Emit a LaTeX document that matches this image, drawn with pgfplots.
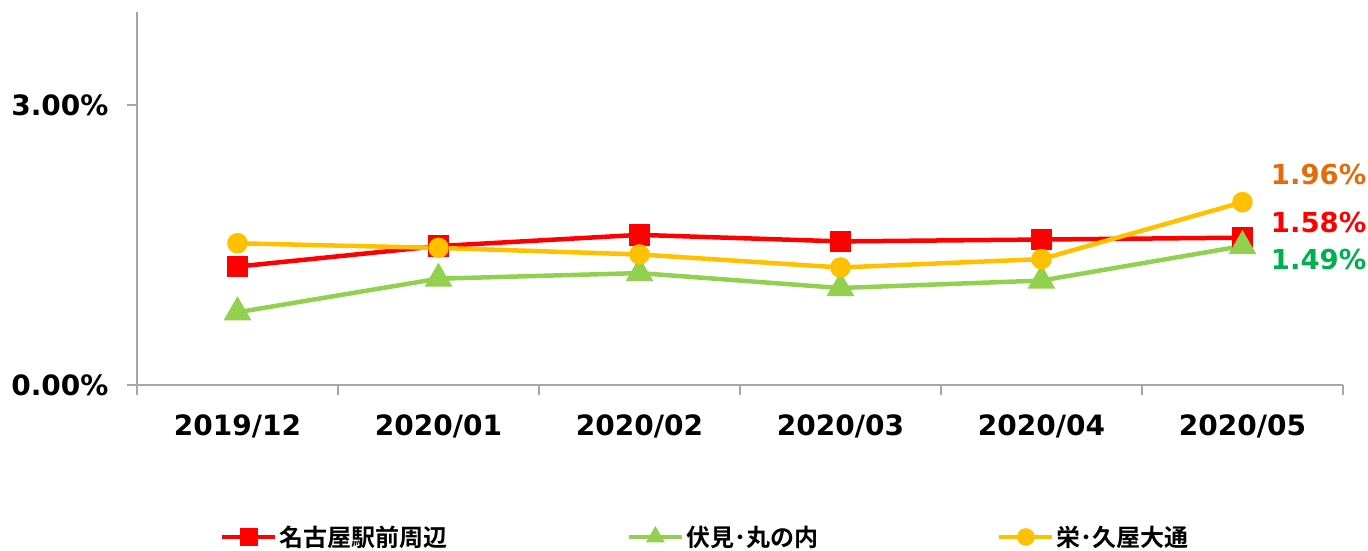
\documentclass[border=0pt]{standalone}
\usepackage{fontspec}
\setmainfont{DejaVu Sans}
\newfontfamily\cjk{Noto Sans CJK JP Bold}
\usepackage{pgfplots}
\pgfplotsset{compat=1.18}
\definecolor{cred}{HTML}{FF0000}
\definecolor{cgreen}{HTML}{92D050}
\definecolor{cyel}{HTML}{FFC000}
\definecolor{corange}{HTML}{E46C0A}
\definecolor{cdgreen}{HTML}{00B050}
\definecolor{axgray}{HTML}{A6A6A6}
\begin{document}
\begin{tikzpicture}
\useasboundingbox (0,0) rectangle (1368pt,551pt);
\begin{axis}[
  at={(137pt,166pt)}, anchor=south west,
  scale only axis, width=1206pt, height=373pt,
  xmin=-0.5, xmax=5.5, ymin=0, ymax=4,
  axis x line=bottom, axis y line=left,
  axis line style={-, draw=axgray, line width=1.5pt},
  xtick={0,...,5},
  xticklabels={2019/12,2020/01,2020/02,2020/03,2020/04,2020/05},
  x tick style={draw=none},
  extra x ticks={-0.5,0.5,1.5,2.5,3.5,4.5,5.5},
  extra x tick labels={},
  extra x tick style={x tick style={draw=axgray, line width=1.5pt}},
  ytick={0,3}, yticklabels={0.00\%,3.00\%},
  y tick style={draw=axgray, line width=1.5pt},
  tick align=outside, major tick length=10pt,
  ticklabel style={font=\fontsize{28}{28}\selectfont\bfseries},
  xticklabel style={yshift=-16pt},
  yticklabel style={xshift=-15pt},
  legend columns=3,
  legend cell align=left,
  legend style={at={(0.0688,-0.4075)}, anchor=west, draw=none, fill=none, inner sep=0pt,
    font=\cjk\fontsize{24}{24}\selectfont,
    /tikz/every even column/.append style={column sep=177pt}},
  legend image code/.code={\draw[mark repeat=2,mark phase=2,#1,mark size=6.5pt] plot coordinates {(0pt,0pt)(26.5pt,0pt)(53pt,0pt)};},
  clip=false,
]
\addplot[cred, line width=4.5pt, mark=square*, mark size=8.5pt, mark options={solid}]
  coordinates {(0,1.27)(1,1.49)(2,1.61)(3,1.54)(4,1.56)(5,1.58)};
\addlegendentry{名古屋駅前周辺}
\addplot[cgreen, line width=4.5pt, mark=triangle*, mark size=11.5pt, mark options={solid}]
  coordinates {(0,0.78)(1,1.14)(2,1.20)(3,1.04)(4,1.12)(5,1.49)};
\addlegendentry{伏見･丸の内}
\addplot[cyel, line width=4.5pt, mark=*, mark size=8pt, mark options={solid}]
  coordinates {(0,1.52)(1,1.47)(2,1.40)(3,1.26)(4,1.35)(5,1.96)};
\addlegendentry{栄･久屋大通}
\node[anchor=west, text=corange, font=\fontsize{27.5}{28}\selectfont\bfseries, xshift=25pt, yshift=28pt] at (axis cs:5,1.96) {1.96\%};
\node[anchor=west, text=cred, font=\fontsize{27.5}{28}\selectfont\bfseries, xshift=25pt, yshift=15pt] at (axis cs:5,1.58) {1.58\%};
\node[anchor=west, text=cdgreen, font=\fontsize{27.5}{28}\selectfont\bfseries, xshift=25pt, yshift=-13pt] at (axis cs:5,1.49) {1.49\%};
\end{axis}
\end{tikzpicture}
\end{document}
